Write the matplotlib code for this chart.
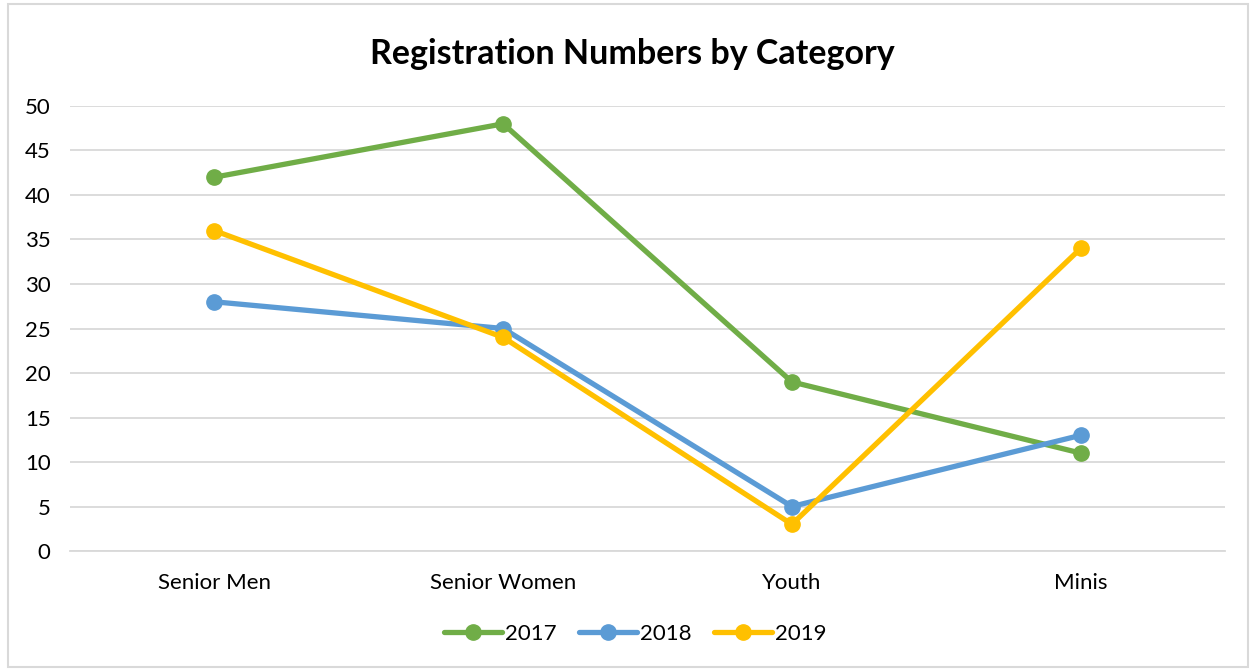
import matplotlib
matplotlib.use("Agg")
import matplotlib.pyplot as plt
from matplotlib.patches import Rectangle

categories = ["Senior Men", "Senior Women", "Youth", "Minis"]
years = ["2017", "2018", "2019"]
values_2017 = [42, 48, 19, 11]
values_2018 = [28, 25, 5, 13]
values_2019 = [36, 24, 3, 34]
colors = ["#70AD47", "#5B9BD5", "#FFC000"]
yticks = [0, 5, 10, 15, 20, 25, 30, 35, 40, 45, 50]

plt.rcParams['font.family'] = ['Lato', 'DejaVu Sans']

fig = plt.figure(figsize=(12.53, 6.70), dpi=100)
fig.patches.append(Rectangle((0.006, 0.004), 0.99, 0.99, transform=fig.transFigure,
                             fill=False, edgecolor="#D9D9D9", linewidth=1.5))
ax = fig.add_axes([0.0559, 0.1776, 0.9218, 0.6642])

x = list(range(len(categories)))
for vals, yr, c in zip([values_2017, values_2018, values_2019], years, colors):
    ax.plot(x, vals, color=c, linewidth=3.8, marker="o", markersize=11,
            label=yr, solid_capstyle="round")

ax.set_xlim(-0.5, len(categories) - 0.5)
ax.set_ylim(0, 50)
ax.set_yticks(yticks)
ax.set_xticks(x)
ax.set_xticklabels(categories, fontsize=16)
ax.tick_params(axis="y", labelsize=16, length=0, pad=14)
ax.tick_params(axis="x", length=0, pad=16)
ax.grid(axis="y", color="#D9D9D9", linewidth=1.3)
ax.set_axisbelow(True)
for s in ["top", "right", "left"]:
    ax.spines[s].set_visible(False)
ax.spines["bottom"].set_color("#D9D9D9")
ax.spines["bottom"].set_linewidth(1.3)

fig.text(0.505, 0.92, "Registration Numbers by Category", ha="center", va="center",
         fontsize=24.5, fontweight="bold")

fig.legend(loc="center", bbox_to_anchor=(0.507, 0.054), ncol=3, frameon=False,
           fontsize=16, handlelength=2.6, handletextpad=0.15, columnspacing=1.0)

fig.savefig("out.png", dpi=100)
